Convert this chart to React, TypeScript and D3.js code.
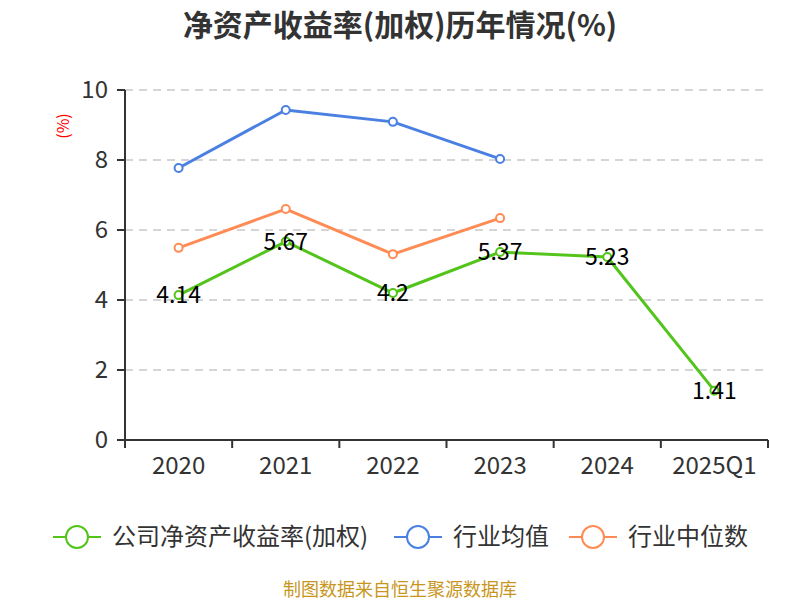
import React from 'react';
import * as d3 from 'd3';

const categories = ['2020', '2021', '2022', '2023', '2024', '2025Q1'];
const companyRoe = [4.14, 5.67, 4.2, 5.37, 5.23, 1.41];
const industryAvg = [7.77, 9.43, 9.09, 8.03];
const industryMedian = [5.49, 6.6, 5.31, 6.34];
const yTicks = [0, 2, 4, 6, 8, 10];

const seriesNames = ['公司净资产收益率(加权)', '行业均值', '行业中位数'];
const colors = ['#52c41a', '#4a80e2', '#ff8c55'];

const font = '"Noto Sans CJK SC", "Noto Sans", sans-serif';

export default function App() {
  const width = 800;
  const height = 600;
  const left = 125;
  const right = 768;
  const top = 90;
  const bottom = 440;

  const x = d3.scaleBand<string>().domain(categories).range([left, right]);
  const y = d3.scaleLinear().domain([0, 10]).range([bottom, top]);
  const cx = (c: string) => x(c)! + x.bandwidth() / 2;

  const line = d3
    .line<number>()
    .x((_, i) => cx(categories[i]))
    .y(d => y(d));

  const allSeries = [companyRoe, industryAvg, industryMedian];
  const legendX = [53, 394, 569];

  return (
    <svg width={width} height={height} style={{ position: 'absolute', left: 0, top: 0, fontFamily: font }}>
      <rect width={width} height={height} fill="#fff" />
      <text x={400} y={36} textAnchor="middle" fontSize={30} fontWeight="bold" fill="#333">
        净资产收益率(加权)历年情况(%)
      </text>
      <text
        transform={`translate(63,126) rotate(-90)`}
        textAnchor="middle"
        dy="0.35em"
        fontSize={16}
        fill="#ff0000"
      >
        (%)
      </text>

      {/* grid */}
      {yTicks.filter(t => t > 0).map(t => (
        <line key={t} x1={left} x2={right} y1={y(t)} y2={y(t)} stroke="#c8c8c8" strokeWidth={1.5} strokeDasharray="8,6" />
      ))}

      {/* y axis */}
      <line x1={left} x2={left} y1={top} y2={bottom} stroke="#333" strokeWidth={2} />
      {yTicks.map(t => (
        <g key={t}>
          <line x1={left - 8} x2={left} y1={y(t)} y2={y(t)} stroke="#333" strokeWidth={2} />
          <text x={108} y={y(t)} dy="0.35em" textAnchor="end" fontSize={24} fill="#333">
            {t}
          </text>
        </g>
      ))}

      {/* x axis */}
      <line x1={left} x2={right} y1={bottom} y2={bottom} stroke="#333" strokeWidth={2} />
      {categories.map(c => (
        <line key={'t' + c} x1={x(c)!} x2={x(c)!} y1={bottom} y2={bottom + 8} stroke="#333" strokeWidth={2} />
      ))}
      <line x1={right} x2={right} y1={bottom} y2={bottom + 8} stroke="#333" strokeWidth={2} />
      {categories.map(c => (
        <text key={'l' + c} x={cx(c)} y={474} textAnchor="middle" fontSize={24} fill="#333">
          {c}
        </text>
      ))}

      {/* lines */}
      {allSeries.map((s, si) => (
        <g key={si}>
          <path d={line(s)!} fill="none" stroke={colors[si]} strokeWidth={3} />
          {s.map((v, i) => (
            <circle key={i} cx={cx(categories[i])} cy={y(v)} r={4} fill="#fff" stroke={colors[si]} strokeWidth={2} />
          ))}
        </g>
      ))}

      {/* value labels */}
      {companyRoe.map((v, i) => (
        <text key={'v' + i} x={cx(categories[i])} y={y(v)} dy="0.35em" textAnchor="middle" fontSize={23} fill="#000">
          {v}
        </text>
      ))}

      {/* legend */}
      {seriesNames.map((n, i) => (
        <g key={n} transform={`translate(${legendX[i]},537)`}>
          <line x1={0} x2={48} y1={0} y2={0} stroke={colors[i]} strokeWidth={2} />
          <circle cx={24} cy={0} r={11} fill="#fff" stroke={colors[i]} strokeWidth={2} />
          <text x={59} y={0} dy="0.35em" fontSize={24} fill="#333">
            {n}
          </text>
        </g>
      ))}

      <text x={400} y={596} textAnchor="middle" fontSize={18} fill="#c8961e">
        制图数据来自恒生聚源数据库
      </text>
    </svg>
  );
}
